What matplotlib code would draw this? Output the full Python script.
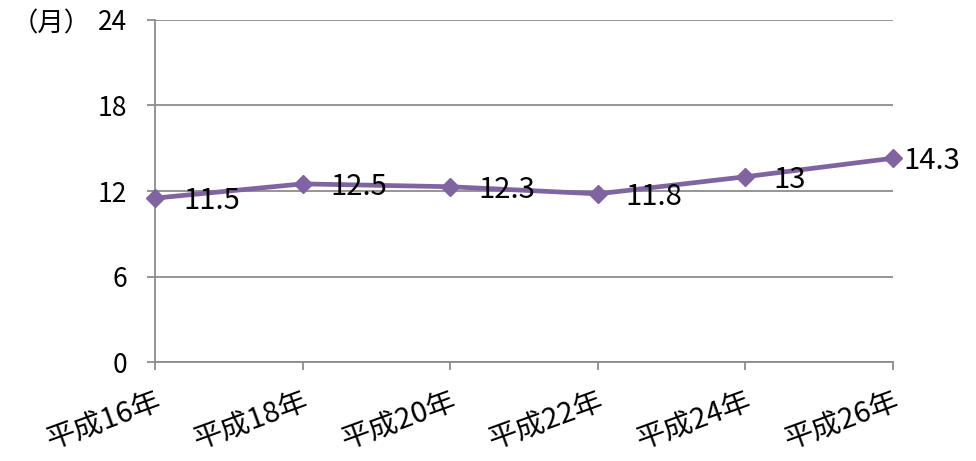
import matplotlib
matplotlib.use("Agg")
import matplotlib.pyplot as plt

plt.rcParams['font.family'] = ['Noto Sans CJK JP', 'DejaVu Sans']

categories = ["平成16年", "平成18年", "平成20年", "平成22年", "平成24年", "平成26年"]
values = [11.5, 12.5, 12.3, 11.8, 13, 14.3]
labels = ["11.5", "12.5", "12.3", "11.8", "13", "14.3"]
yticks = [0, 6, 12, 18, 24]

fig = plt.figure(figsize=(9.76, 4.61), dpi=100)
ax = fig.add_axes([155/976, 1-362/461, (893-155)/976, (362-20)/461])

x = list(range(len(categories)))
color = "#8064A2"
ax.plot(x, values, color=color, lw=3.4, marker='D', markersize=9, zorder=3, clip_on=False)

for i, (xi, v, lab) in enumerate(zip(x, values, labels)):
    dx = 28 if i < len(x) - 1 else 10
    ax.annotate(lab, (xi, v), xytext=(dx, -3), textcoords='offset pixels',
                ha='left', va='center', fontsize=21, color='black', zorder=4)

ax.set_xlim(0, len(categories) - 1)
ax.set_ylim(0, 24)
ax.set_yticks(yticks)
ax.set_yticklabels([str(t) for t in yticks], fontsize=19)
ax.set_xticks(x)
ax.set_xticklabels(categories, fontsize=21, rotation=20, ha='right', va='top', rotation_mode='anchor')

ax.grid(axis='y', color='#8c8c8c', lw=1.3)
ax.set_axisbelow(True)
for s in ['top', 'right']:
    ax.spines[s].set_visible(False)
for s in ['left', 'bottom']:
    ax.spines[s].set_color('#8c8c8c')
    ax.spines[s].set_linewidth(1.3)
ax.tick_params(axis='both', color='#8c8c8c', width=1.3, length=6, direction='out')
ax.tick_params(axis='y', pad=14)
ax.tick_params(axis='x', pad=12)

fig.text(12/976, 1-24/461, "（月）", fontsize=19, ha='left', va='center')

fig.savefig("out.png", dpi=100)
